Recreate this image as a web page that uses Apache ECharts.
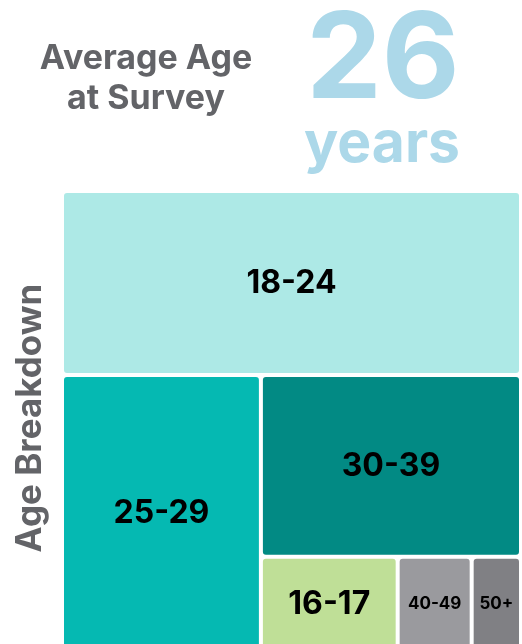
<!DOCTYPE html>
<html>
<head>
<meta charset="utf-8">
<title>Average Age at Survey</title>
<script src="https://cdn.jsdelivr.net/npm/echarts@6/dist/echarts.min.js"></script>
<style>
  html, body { margin: 0; padding: 0; background: #ffffff; }
  #chart { width: 522px; height: 644px; }
</style>
</head>
<body>
<div id="chart"></div>
<script>
// Age groups in layout order, with their share of respondents (%)
const ageGroups = ['18-24', '25-29', '30-39', '16-17', '40-49', '50+'];
const shares = [40.0, 26.0, 22.4, 6.1, 3.3, 2.2];
const tileColors = ['#ade9e6', '#05b9b2', '#028a84', '#bfdf97', '#9a9a9e', '#808084'];
const labelSizes = [32, 32, 32, 32, 17, 17];

// Headline figure
const averageAge = 26;
const averageUnit = 'years';
const headingLines = ['Average Age', 'at Survey'];
const sideTitle = 'Age Breakdown';

const FONT = 'Inter, "Noto Sans", sans-serif';
const GREY = '#636468';
const BLUE = '#acd8e9';

const chart = echarts.init(document.getElementById('chart'), null, { renderer: 'canvas' });

const treeData = ageGroups.map((name, i) => ({
  name: name,
  value: shares[i],
  itemStyle: { color: tileColors[i] },
  label: { fontSize: labelSizes[i] }
}));

chart.setOption({
  animation: false,
  backgroundColor: '#ffffff',
  graphic: [
    {
      type: 'text', x: 146, y: 59,
      style: { text: headingLines[0], font: 'bold 34px ' + FONT, fill: GREY, align: 'center', verticalAlign: 'middle' }
    },
    {
      type: 'text', x: 146, y: 99,
      style: { text: headingLines[1], font: 'bold 34px ' + FONT, fill: GREY, align: 'center', verticalAlign: 'middle' }
    },
    {
      type: 'text', x: 383, y: 62,
      style: { text: String(averageAge), font: 'bold 120px ' + FONT, fill: BLUE, align: 'center', verticalAlign: 'middle' }
    },
    {
      type: 'text', x: 382, y: 145,
      style: { text: averageUnit, font: 'bold 57px ' + FONT, fill: BLUE, align: 'center', verticalAlign: 'middle' }
    },
    {
      type: 'text', x: 30, y: 418, rotation: Math.PI / 2,
      style: { text: sideTitle, font: 'bold 35px ' + FONT, fill: GREY, align: 'center', verticalAlign: 'middle' }
    }
  ],
  series: [
    {
      type: 'treemap',
      left: 64,
      top: 193,
      width: 455,
      height: 456,
      sort: false,
      squareRatio: 0.5,
      roam: false,
      nodeClick: false,
      silent: true,
      breadcrumb: { show: false },
      label: {
        show: true,
        position: 'inside',
        color: '#000000',
        fontFamily: FONT,
        fontWeight: 'bold',
        padding: 0
      },
      itemStyle: { borderWidth: 0 },
      levels: [
        { itemStyle: { borderWidth: 0, gapWidth: 4 } },
        { itemStyle: { borderWidth: 0, borderRadius: 3 } }
      ],
      data: treeData
    }
  ]
});
</script>
</body>
</html>
